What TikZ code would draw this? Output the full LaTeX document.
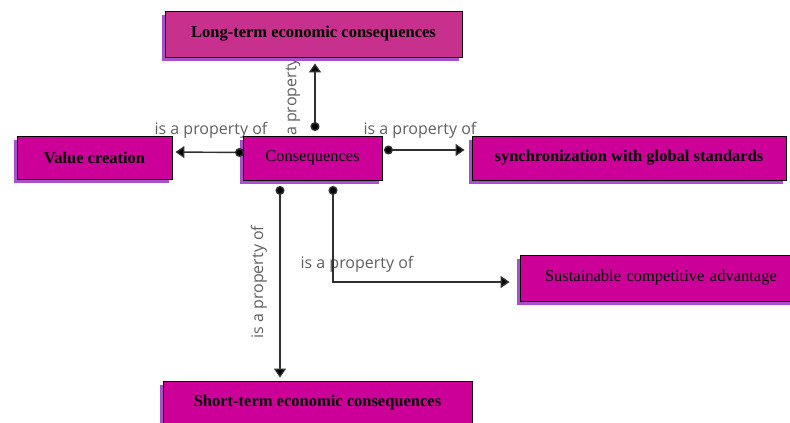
\documentclass[tikz,border=0pt]{standalone}
\usepackage{fontspec}
\setmainfont{Liberation Serif}
\newfontfamily\lblfont{Open Sans}
\usetikzlibrary{arrows.meta,shadows}
\definecolor{boxfill}{HTML}{CC0099}
\definecolor{topfill}{HTML}{C8308E}
\definecolor{shadowc}{HTML}{A94FCB}
\definecolor{lblc}{HTML}{606060}
\definecolor{linec}{HTML}{303030}
\tikzset{
  cbox/.style={draw=black, line width=0.9pt, fill=boxfill, inner sep=0pt,
    font=\fontsize{16.5}{18}\selectfont,
    drop shadow={shadow xshift=-3pt, shadow yshift=-3.5pt, fill=shadowc, opacity=1}},
  bbox/.style={cbox, font=\fontsize{16.5}{18}\selectfont\bfseries},
  conn/.style={draw=linec, line width=1.4pt, {Circle[length=9pt,fill=black]}-{Triangle[width=12pt,length=9pt,fill=black]}},
  lbl/.style={text=lblc, font=\lblfont\fontsize{16}{18}\selectfont, inner sep=0pt}
}
\begin{document}
\begin{tikzpicture}[x=1pt,y=-1pt]
\useasboundingbox (0,0) rectangle (790,423);
% labels (behind boxes)
\node[lbl] (l1) at (211,130) {is a property of};
\node[lbl] (l2) at (420,130) {is a property of};
\node[lbl, rotate=90] (l3) at (293,97) {a property};
\node[lbl, rotate=90] (l4) at (259,282) {is a property of};
\node[lbl] (l5) at (357,264) {is a property of};
% boxes
\node[bbox, fill=topfill, minimum width=297pt, minimum height=46pt] (top) at (313.5,34) {Long-term economic consequences};
\node[bbox, minimum width=155pt, minimum height=43pt] (value) at (94.5,157.5) {Value creation};
\node[cbox, minimum width=139pt, minimum height=44pt] (cons) at (312.5,158) {Consequences};
\node[bbox, minimum width=314pt, minimum height=44pt] (sync) at (629,158) {synchronization with global standards};
\node[cbox, minimum width=278pt, minimum height=46pt, text width=270pt, align=left] (sust) at (659,278) {\hspace*{21pt}Sustainable competitive advantage};
\node[bbox, minimum width=309pt, minimum height=44pt] (short) at (317.5,403) {Short-term economic consequences};
% connectors
\draw[conn] ([xshift=2.5pt,yshift=4.5pt]cons.north) -- ([xshift=2.5pt,yshift=-6pt]cons.north |- top.south);
\draw[conn] ([xshift=1.5pt,yshift=5.5pt]cons.west) -- ([xshift=3pt,yshift=5.5pt]value.east);
\draw[conn] ([xshift=1.5pt,yshift=8pt]cons.east) -- ([xshift=-7pt,yshift=8pt]sync.west);
\draw[conn] ([xshift=-32.5pt,yshift=-5.5pt]cons.south) -- ([xshift=-32.5pt,yshift=3pt]cons.south |- short.north);
\coordinate (bend) at ([xshift=20.5pt]cons.south |- 0,282);
\draw[conn] ([xshift=20.5pt,yshift=-5.5pt]cons.south) -- (bend) -- ([xshift=-10pt]sust.west |- bend);
\end{tikzpicture}
\end{document}
